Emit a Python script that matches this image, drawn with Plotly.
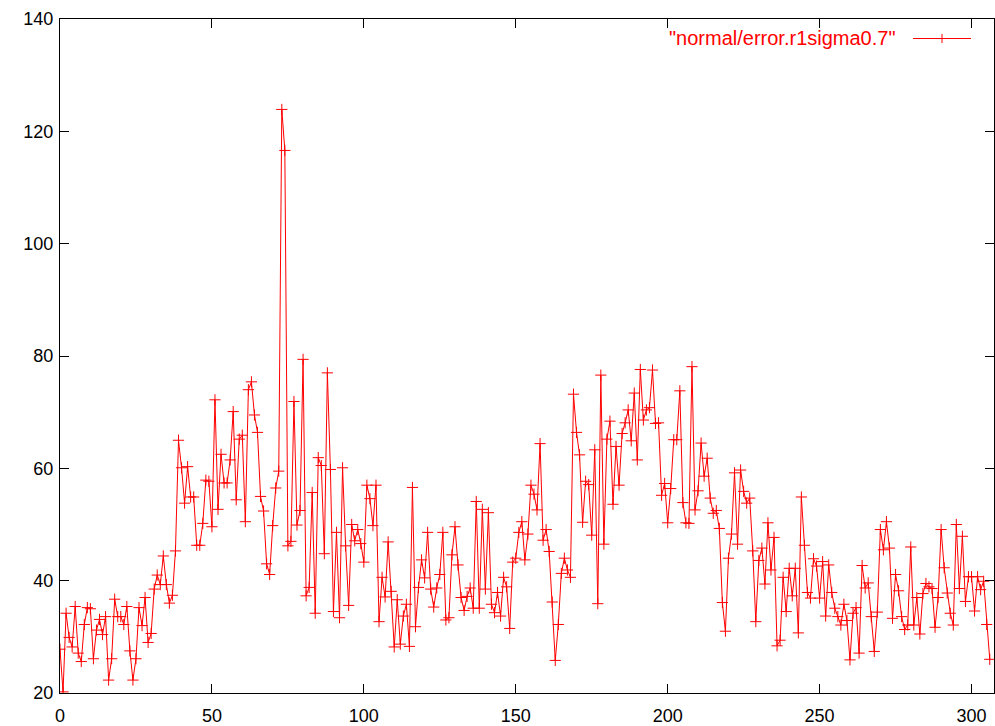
import plotly.graph_objects as go

# Error values per sample, in order of the sample index
error_0_59 = [
    27.8, 20.2, 34.2, 29.9, 28.2, 35.4, 27.1, 25.6, 32.2, 35.2,
    35.0, 26.1, 31.2, 33.1, 30.4, 33.6, 22.3, 26.1, 36.7, 33.6,
    33.6, 32.2, 35.4, 27.5, 22.3, 26.1, 35.2, 32.0, 37.0, 29.0,
    30.6, 38.5, 41.0, 39.3, 44.4, 39.3, 36.0, 37.4, 45.3, 65.0,
    60.1, 53.8, 60.3, 54.9, 54.9, 46.3, 46.3, 50.2, 57.9, 57.7,
    49.6, 72.2, 52.7, 62.5, 57.4, 57.4, 61.5, 70.1, 54.4, 65.2,
]
error_60_119 = [
    65.9, 50.5, 74.0, 75.4, 69.5, 66.4, 55.0, 52.4, 43.0, 41.1,
    49.8, 56.5, 59.5, 123.9, 116.6, 46.2, 47.0, 71.9, 49.9, 52.5,
    79.4, 37.3, 38.8, 55.7, 34.2, 61.9, 60.5, 44.8, 77.0, 59.8,
    34.5, 48.6, 33.4, 60.1, 46.2, 35.6, 50.0, 47.1, 49.1, 46.6,
    43.3, 57.0, 54.6, 49.8, 57.0, 32.7, 40.6, 37.1, 46.9, 38.1,
    28.2, 36.6, 28.7, 33.7, 35.8, 28.3, 56.6, 31.8, 38.8, 43.7,
]
error_120_179 = [
    40.5, 48.6, 38.5, 35.3, 38.7, 41.1, 48.6, 33.0, 33.4, 44.6,
    49.6, 42.8, 37.0, 34.7, 37.2, 38.7, 35.1, 54.1, 35.1, 52.7,
    38.5, 52.1, 35.8, 34.3, 37.9, 33.7, 40.6, 38.9, 31.5, 43.3,
    44.0, 48.6, 50.5, 43.7, 48.3, 57.0, 55.4, 52.6, 64.4, 47.2,
    49.1, 45.2, 36.2, 25.8, 32.2, 41.3, 44.0, 41.9, 40.6, 73.2,
    66.4, 62.4, 50.4, 57.7, 57.1, 48.1, 63.3, 35.9, 76.6, 46.5,
]
error_180_239 = [
    65.2, 68.4, 53.6, 63.9, 57.0, 66.2, 68.1, 70.4, 64.9, 73.4,
    61.5, 77.6, 68.6, 70.4, 70.8, 77.5, 68.0, 68.1, 55.2, 57.3,
    50.3, 56.4, 65.1, 65.1, 73.8, 53.9, 50.3, 50.2, 78.1, 52.6,
    56.0, 64.5, 58.6, 61.8, 54.7, 52.0, 52.5, 49.3, 36.1, 31.0,
    44.0, 48.3, 59.2, 46.5, 59.7, 55.9, 53.8, 54.7, 45.3, 32.7,
    43.6, 45.8, 39.4, 50.3, 41.9, 47.7, 28.4, 29.4, 40.6, 34.5,
]
error_240_306 = [
    42.2, 37.3, 42.2, 30.7, 54.9, 46.3, 37.9, 36.9, 43.9, 42.6,
    36.9, 43.4, 33.7, 42.8, 37.9, 35.1, 33.6, 32.1, 35.8, 32.9,
    25.9, 34.2, 35.2, 27.1, 42.7, 38.7, 39.6, 33.6, 27.4, 34.4,
    49.1, 45.5, 50.5, 45.8, 33.3, 41.1, 38.2, 33.6, 31.3, 32.1,
    46.0, 32.1, 37.0, 30.5, 37.7, 39.5, 38.9, 38.6, 31.7, 37.0,
    49.1, 42.3, 37.8, 34.2, 32.1, 50.0, 38.6, 47.9, 36.3, 40.7,
    40.7, 34.6, 40.7, 38.4, 39.9, 32.2, 26.0,
]

x_ticks = [0, 50, 100, 150, 200, 250, 300]
y_ticks = [20, 40, 60, 80, 100, 120, 140]
series_name = '"normal/error.r1sigma0.7"'

errors = error_0_59 + error_60_119 + error_120_179 + error_180_239 + error_240_306
samples = list(range(len(errors)))

RED = "#ff0000"
FONT = "Liberation Sans, Arial, sans-serif"

fig = go.Figure()
fig.add_trace(go.Scatter(
    x=samples, y=errors, mode="lines+markers", name=series_name,
    line=dict(color=RED, width=1),
    marker=dict(symbol="cross-thin", size=8, line=dict(color=RED, width=1)),
    showlegend=False,
))

W, H = 995, 726
ML, MR, MT, MB = 60, 1, 19, 33
pw, ph = W - ML - MR, H - MT - MB

def px(xp):
    return (xp - ML) / pw

def py(yp):
    return (H - MB - yp) / ph

# key entry in the top-right corner: label, then a line sample with a "+" on it
key_y = 38.5
fig.add_annotation(
    x=px(898), y=py(key_y), xref="paper", yref="paper",
    text=series_name, showarrow=False, xanchor="right", yanchor="middle",
    font=dict(family=FONT, size=20, color=RED),
)
fig.add_shape(type="line", xref="paper", yref="paper",
              x0=px(913), x1=px(971), y0=py(key_y), y1=py(key_y),
              line=dict(color=RED, width=1))
fig.add_shape(type="line", xref="paper", yref="paper",
              x0=px(942), x1=px(942), y0=py(key_y - 4.5), y1=py(key_y + 4.5),
              line=dict(color=RED, width=1))

axis_common = dict(
    showgrid=False, zeroline=False, showline=True, linecolor="black", linewidth=1,
    mirror="ticks", ticks="inside", ticklen=9, tickwidth=1, tickcolor="black",
    tickfont=dict(family=FONT, size=18, color="black"),
)
fig.update_xaxes(range=[0, 307.4], tickvals=x_ticks, ticklabelstandoff=6, **axis_common)
fig.update_yaxes(range=[20, 140], tickvals=y_ticks, ticklabelstandoff=2, **axis_common)

fig.update_layout(
    width=W, height=H,
    margin=dict(l=ML, r=MR, t=MT, b=MB, pad=0),
    paper_bgcolor="white", plot_bgcolor="white",
    font=dict(family=FONT, color="black"),
)

fig.write_html("out.html")
